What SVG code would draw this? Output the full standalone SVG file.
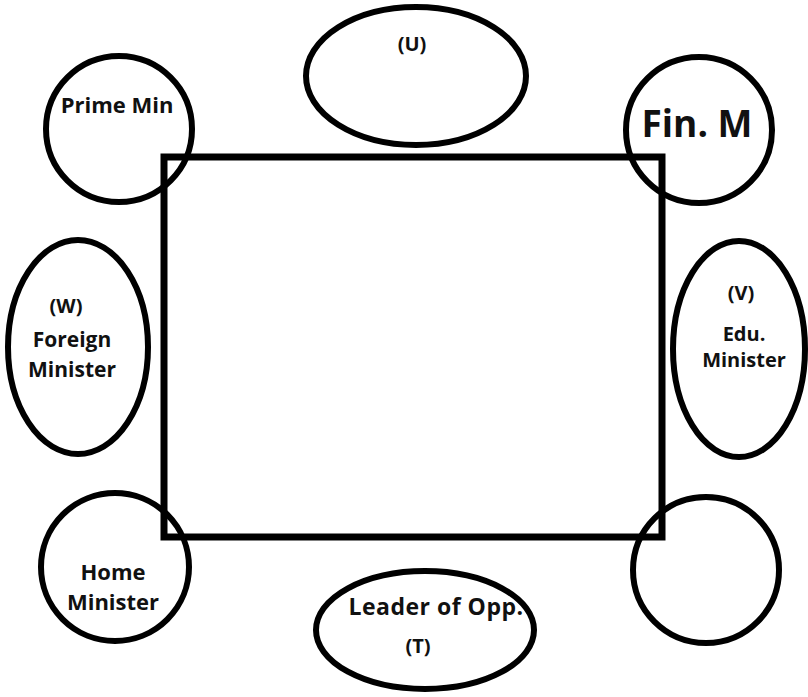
<svg xmlns="http://www.w3.org/2000/svg" width="808" height="697" viewBox="0 0 808 697">
<style>
.n{fill:none;stroke:#000;stroke-width:6}
.t{font-family:"Open Sans","Liberation Sans",sans-serif;font-weight:bold;font-size:20px;fill:#111;text-anchor:middle}
.tb{font-size:37px}
.tm{font-size:21px}
.tl{font-size:22px}
.tx{font-size:23px;letter-spacing:0.5px}
</style>
<rect width="808" height="697" fill="#fff"/>
<g id="table"><rect x="164" y="157" width="498" height="380" fill="none" stroke="#000" stroke-width="7"/></g>
<g id="prime-min"><circle class="n" cx="119" cy="129" r="73"/><text class="t tl" x="117" y="113">Prime Min</text></g>
<g id="u"><ellipse class="n" cx="416" cy="76" rx="110" ry="69"/><text class="t" x="412" y="51">(U)</text></g>
<g id="fin-m"><circle class="n" cx="699" cy="130" r="73"/><text class="t tb" x="697" y="137">Fin. M</text></g>
<g id="w"><ellipse class="n" cx="78" cy="347" rx="70" ry="107"/><text class="t" x="66" y="313">(W)</text><text class="t tm" x="72" y="347">Foreign</text><text class="t tm" x="72" y="377">Minister</text></g>
<g id="v"><ellipse class="n" cx="739" cy="349" rx="66" ry="108"/><text class="t" x="741" y="300">(V)</text><text class="t" x="744" y="341">Edu.</text><text class="t" x="744" y="367">Minister</text></g>
<g id="home"><circle class="n" cx="115" cy="567" r="74"/><text class="t tl" x="113" y="580">Home</text><text class="t tl" x="113" y="610">Minister</text></g>
<g id="t"><ellipse class="n" cx="425" cy="630" rx="109" ry="59"/><text class="t tx" x="436" y="615">Leader of Opp.</text><text class="t" x="418" y="653">(T)</text></g>
<g id="empty"><circle class="n" cx="706" cy="570" r="73"/></g>
<g id="connectors"/>
</svg>
